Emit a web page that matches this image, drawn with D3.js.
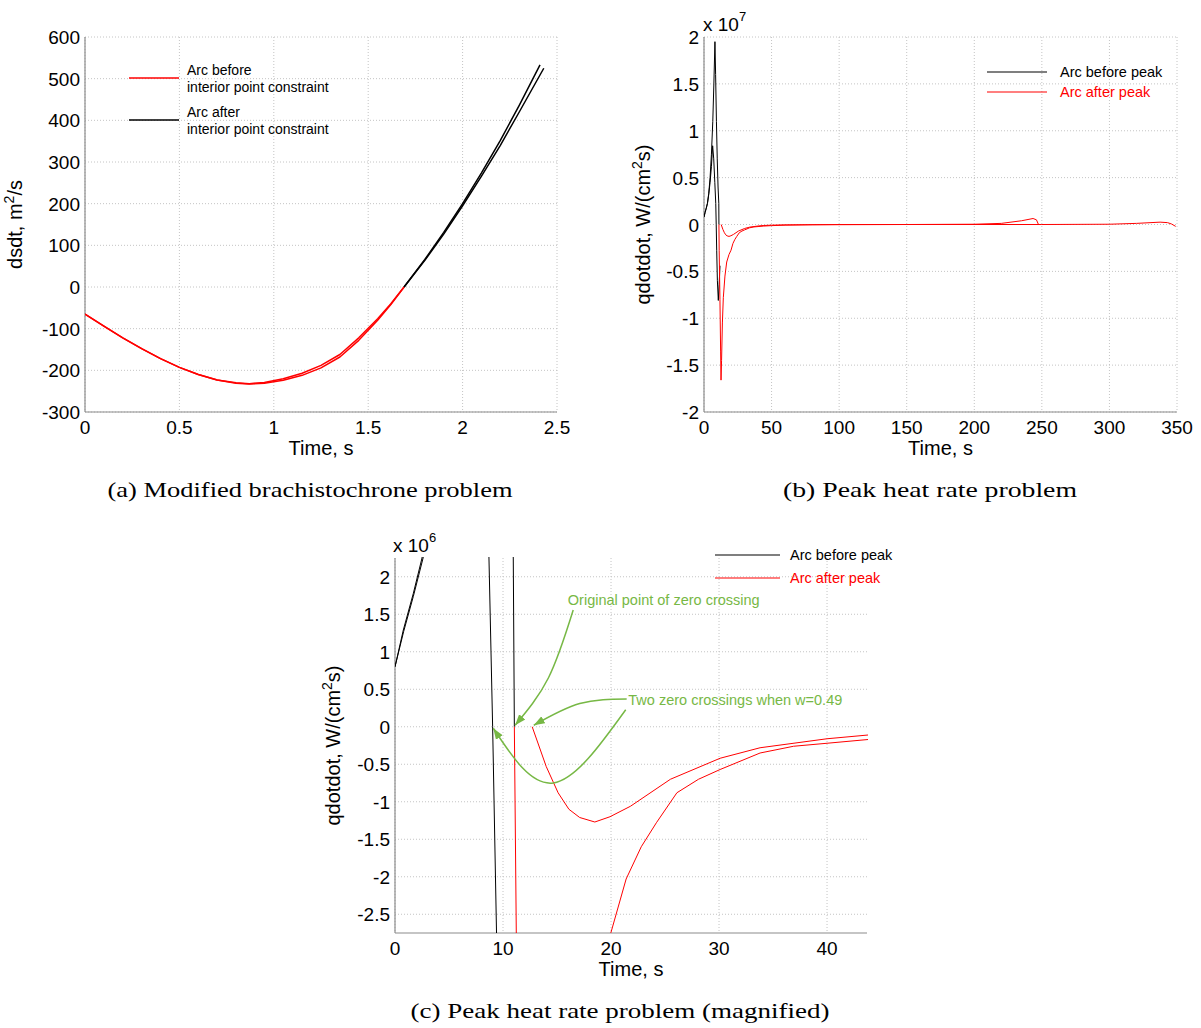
<!DOCTYPE html>
<html><head><meta charset="utf-8">
<script src="https://cdn.jsdelivr.net/npm/d3@7"></script>
<style>
html,body{margin:0;padding:0;background:#fff;}
svg text{font-family:"Liberation Sans",Arial,Helvetica,sans-serif;}
</style></head>
<body><svg id="c" width="1201" height="1028"></svg>
<script>
// ---------- Panel (a): brachistochrone ----------
const aXTicks = [0, 0.5, 1, 1.5, 2, 2.5];
const aYTicks = [-300, -200, -100, 0, 100, 200, 300, 400, 500, 600];
const aRedT = [0, 0.1, 0.2, 0.3, 0.4, 0.5, 0.6, 0.7, 0.8, 0.87, 0.95, 1.05, 1.15, 1.25, 1.35, 1.45, 1.55, 1.62, 1.69];
const aRed1V = [-65, -94, -122, -148, -172, -193, -210, -223, -231, -233, -231, -224, -212, -194, -168, -128, -80, -42, 0];
const aRed2V = [-65, -94, -122, -148, -172, -193, -210, -223, -230, -232, -229, -220, -207, -188, -162, -122, -76, -40, 0];
const aBlk1T = [1.69, 1.8, 1.9, 2.0, 2.1, 2.2, 2.3, 2.41];
const aBlk1V = [0, 66, 131, 200, 274, 352, 436, 533];
const aBlk2T = [1.69, 1.8, 1.9, 2.0, 2.1, 2.2, 2.3, 2.43];
const aBlk2V = [0, 64, 127, 195, 266, 340, 420, 525];
const aLegend = [["Arc before", "interior point constraint"], ["Arc after", "interior point constraint"]];

// ---------- Panels (b),(c): peak heat rate, values in units of 1e6 W/(cm^2 s) ----------
const bXTicks = [0, 50, 100, 150, 200, 250, 300, 350];
const bYTicks = [-20, -15, -10, -5, 0, 5, 10, 15, 20];      // shown as x 10^7
const cXTicks = [0, 10, 20, 30, 40];
const cYTicks = [-2.5, -2, -1.5, -1, -0.5, 0, 0.5, 1, 1.5, 2]; // shown as x 10^6
const blkAT = [0, 0.8, 1.7, 2.6, 3.5, 4.5, 5.5, 6.4, 7.2, 8.0, 8.7, 9.04, 9.4, 9.9, 10.6, 11.2, 11.85];
const blkAV = [0.8, 1.27, 1.74, 2.25, 3.2, 4.5, 6.2, 8.4, 7.0, 4.5, 2.25, 0, -2.75, -6.0, -8.1, -6.4, -4.4];
const blkBT = [0, 0.77, 1.7, 2.5, 3.5, 4.5, 5.5, 6.5, 7.3, 8.1, 8.6, 9.2, 9.8, 10.4, 10.95, 11.05];
const blkBV = [0.8, 1.29, 1.78, 2.25, 3.3, 5.0, 7.5, 11.0, 15.0, 19.5, 16.0, 11.0, 7.0, 4.0, 2.25, 0];
const redAT = [11.05, 11.23, 11.8, 12.3, 12.6, 13.0, 13.6, 14.3, 15.5, 16.8, 18.5, 20.0, 21.4, 22.8, 24.2, 26.1, 28.1, 30.1, 33.8, 36.9, 40, 43.8, 50, 60, 80, 100, 150, 200, 220, 235, 243.5, 246, 247.5];
const redAV = [0, -2.75, -8.0, -13.5, -16.6, -14.5, -10.5, -7.8, -5.5, -4.0, -3.2, -2.74, -2.03, -1.6, -1.28, -0.88, -0.70, -0.57, -0.35, -0.26, -0.22, -0.17, -0.12, -0.07, -0.03, -0.01, 0, 0.03, 0.12, 0.4, 0.64, 0.5, 0];
const redBT = [12.7, 14.0, 15.1, 16.1, 17.1, 18.5, 19.9, 21.8, 25.5, 30.1, 33.8, 40, 43.8, 50, 60, 80, 100, 150, 250, 300, 320, 337.5, 343, 346, 349];
const redBV = [0, -0.53, -0.88, -1.10, -1.21, -1.27, -1.20, -1.06, -0.70, -0.42, -0.28, -0.16, -0.11, -0.07, -0.04, -0.02, -0.01, 0, 0, 0.03, 0.12, 0.25, 0.2, 0.05, -0.2];
const hLegend = ["Arc before peak", "Arc after peak"];
// annotations in panel (c) data units [t, value(1e6)]
const note1Text = "Original point of zero crossing";
const note1Pos = [16.0, 1.62];
const note1Arrow = [[16.5, 1.556], [14.2, 0.65], [11.12, 0.02]];
const note2Text = "Two zero crossings when w=0.49";
const note2Pos = [21.6, 0.36];
const note2ArrowA = [[21.45, 0.37], [17.1, 0.31], [12.85, 0.02]];
const note2ArrowB = [[21.36, 0.226], [14.66, -0.749], [9.1, -0.02]];
const captions = ["(a) Modified brachistochrone problem", "(b) Peak heat rate problem", "(c) Peak heat rate problem (magnified)"];

const RED = "#ff0000", BLACK = "#000000", GREEN = "#77b845";
const svg = d3.select("#c");
const fmt = v => String(v).replace("\u2212", "-");

function zip(t, v) { return t.map((d, i) => [d, v[i]]); }

function panel(o) {
  const x = d3.scaleLinear().domain(o.xd).range([o.left, o.left + o.w]);
  const y = d3.scaleLinear().domain(o.yd).range([o.top + o.h, o.top]);
  const g = svg.append("g");
  g.selectAll(".gx").data(o.xt).enter().append("line")
    .attr("x1", d => x(d)).attr("x2", d => x(d)).attr("y1", o.top).attr("y2", o.top + o.h)
    .attr("stroke", "#c4c4c4").attr("stroke-width", 1).attr("stroke-dasharray", "1,2");
  g.selectAll(".gy").data(o.yt).enter().append("line")
    .attr("x1", o.left).attr("x2", o.left + o.w).attr("y1", d => y(d)).attr("y2", d => y(d))
    .attr("stroke", "#c4c4c4").attr("stroke-width", 1).attr("stroke-dasharray", "1,2");
  g.append("line").attr("x1", o.left).attr("x2", o.left).attr("y1", o.top).attr("y2", o.top + o.h)
    .attr("stroke", "#8c8c8c").attr("stroke-width", 1.2);
  g.append("line").attr("x1", o.left).attr("x2", o.left + o.w).attr("y1", o.top + o.h).attr("y2", o.top + o.h)
    .attr("stroke", "#8c8c8c").attr("stroke-width", 1.2);
  g.selectAll(".tx").data(o.xt).enter().append("text")
    .attr("x", d => x(d)).attr("y", o.top + o.h + 22).attr("text-anchor", "middle")
    .attr("font-size", 19).text(d => fmt(d));
  g.selectAll(".ty").data(o.yt).enter().append("text")
    .attr("x", o.left - 5).attr("y", d => y(d) + 7).attr("text-anchor", "end")
    .attr("font-size", 19).text(d => o.yfmt ? o.yfmt(d) : fmt(d));
  g.append("text").attr("x", o.left + o.w / 2).attr("y", o.top + o.h + 43).attr("text-anchor", "middle")
    .attr("font-size", 20).text("Time, s");
  const yl = g.append("text").attr("transform", `translate(${o.left - o.ylOff},${o.top + o.h / 2}) rotate(-90)`)
    .attr("text-anchor", "middle").attr("font-size", 20);
  o.ylab(yl);
  const id = "clip" + Math.round(o.left) + "_" + Math.round(o.top);
  svg.append("clipPath").attr("id", id).append("rect")
    .attr("x", o.left).attr("y", o.top - 1).attr("width", o.w + 1).attr("height", o.h + 1);
  const pg = svg.append("g").attr("clip-path", `url(#${id})`);
  const line = d3.line().x(d => x(d[0])).y(d => y(d[1]));
  o.series.forEach(s => {
    pg.append("path").attr("d", line(s.d)).attr("fill", "none")
      .attr("stroke", s.c).attr("stroke-width", o.lw).attr("stroke-linejoin", "round");
  });
  return { x, y, g };
}

// Panel (a)
panel({
  left: 85, top: 37, w: 472, h: 375, xd: [0, 2.5], yd: [-300, 600], xt: aXTicks, yt: aYTicks, lw: 1.5, ylOff: 63,
  ylab: t => { t.append("tspan").text("dsdt, m"); t.append("tspan").attr("dy", -8).attr("font-size", 14).text("2"); t.append("tspan").attr("dy", 8).text("/s"); },
  series: [
    { d: zip(aRedT, aRed1V), c: RED }, { d: zip(aRedT, aRed2V), c: RED },
    { d: zip(aBlk1T, aBlk1V), c: BLACK }, { d: zip(aBlk2T, aBlk2V), c: BLACK }
  ]
});
[RED, BLACK].forEach((c, i) => {
  const yy = 78 + i * 42;
  svg.append("line").attr("x1", 129).attr("x2", 179).attr("y1", yy).attr("y2", yy).attr("stroke", c).attr("stroke-width", 1.5);
  svg.append("text").attr("x", 187).attr("y", yy - 3).attr("font-size", 14).text(aLegend[i][0]);
  svg.append("text").attr("x", 187).attr("y", yy + 14).attr("font-size", 14).text(aLegend[i][1]);
});

function qlab(t) {
  t.append("tspan").text("qdotdot, W/(cm");
  t.append("tspan").attr("dy", -8).attr("font-size", 14).text("2");
  t.append("tspan").attr("dy", 8).text("s)");
}
const heatSeries = [
  { d: zip(blkAT, blkAV), c: BLACK }, { d: zip(blkBT, blkBV), c: BLACK },
  { d: zip(redAT, redAV), c: RED }, { d: zip(redBT, redBV), c: RED }
];

// Panel (b)
panel({
  left: 704, top: 37, w: 473, h: 375, xd: [0, 350], yd: [-20, 20], xt: bXTicks, yt: bYTicks, lw: 1, ylOff: 54,
  yfmt: d => fmt(d / 10), ylab: qlab, series: heatSeries
});
const e7 = svg.append("text").attr("x", 703).attr("y", 31).attr("font-size", 19);
e7.append("tspan").text("x 10"); e7.append("tspan").attr("dy", -10).attr("font-size", 13).text("7");
hLegend.forEach((s, i) => {
  const yy = 72 + i * 20, c = i ? RED : BLACK;
  svg.append("line").attr("x1", 987).attr("x2", 1047).attr("y1", yy).attr("y2", yy).attr("stroke", c).attr("stroke-width", 1.2);
  svg.append("text").attr("x", 1060).attr("y", yy + 5).attr("font-size", 14.5).attr("fill", c).text(s);
});

// Panel (c)
const pc = panel({
  left: 395, top: 558, w: 472, h: 375, xd: [0, 43.7], yd: [-2.75, 2.25], xt: cXTicks, yt: cYTicks, lw: 1, ylOff: 55,
  ylab: qlab, series: heatSeries
});
const e6 = svg.append("text").attr("x", 393).attr("y", 552).attr("font-size", 19);
e6.append("tspan").text("x 10"); e6.append("tspan").attr("dy", -10).attr("font-size", 13).text("6");
hLegend.forEach((s, i) => {
  const yy = 555 + i * 23, c = i ? RED : BLACK;
  svg.append("line").attr("x1", 715).attr("x2", 780).attr("y1", yy).attr("y2", yy).attr("stroke", c).attr("stroke-width", 1.2);
  svg.append("text").attr("x", 790).attr("y", yy + 5).attr("font-size", 14.5).attr("fill", c).text(s);
});
const defs = svg.append("defs");
defs.append("marker").attr("id", "ah").attr("markerUnits", "userSpaceOnUse")
  .attr("markerWidth", 12).attr("markerHeight", 10).attr("refX", 11).attr("refY", 5).attr("orient", "auto")
  .append("path").attr("d", "M0,1 L11,5 L0,9 Z").attr("fill", GREEN);
const cl = d3.line().x(d => pc.x(d[0])).y(d => pc.y(d[1])).curve(d3.curveNatural);
[note1Arrow, note2ArrowA, note2ArrowB].forEach(a => {
  svg.append("path").attr("d", cl(a)).attr("fill", "none").attr("stroke", GREEN).attr("stroke-width", 1.5)
    .attr("marker-end", "url(#ah)");
});
svg.append("text").attr("x", pc.x(note1Pos[0])).attr("y", pc.y(note1Pos[1])).attr("font-size", 14.5).attr("fill", GREEN).text(note1Text);
svg.append("text").attr("x", pc.x(note2Pos[0])).attr("y", pc.y(note2Pos[1]) + 5).attr("font-size", 14.5).attr("fill", GREEN).text(note2Text);

// captions
const capPos = [[310, 497, 405], [930, 497, 294], [620, 1018, 419]];
captions.forEach((s, i) => {
  svg.append("text").attr("x", capPos[i][0]).attr("y", capPos[i][1]).attr("text-anchor", "middle")
    .style("font-family", "'Liberation Serif','Times New Roman',serif")
    .attr("font-size", 21).attr("textLength", capPos[i][2]).attr("lengthAdjust", "spacingAndGlyphs").text(s);
});
</script></body></html>
